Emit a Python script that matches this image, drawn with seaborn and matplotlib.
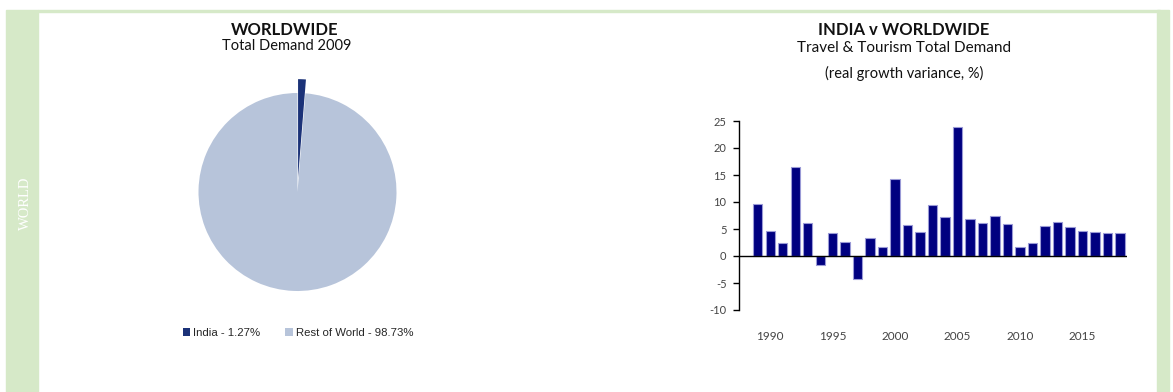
import matplotlib
matplotlib.use("Agg")
import matplotlib.pyplot as plt
from matplotlib.patches import Rectangle, Patch
import seaborn as sns
import pandas as pd

# Share of world Travel & Tourism total demand, 2009
pie_labels = ["India", "Rest of World"]
pie_shares = [1.27, 98.73]
pie_colors = ["#1B3278", "#B7C4DA"]

# India vs worldwide real growth variance (%), 1989-2018
years = list(range(1989, 2019))
growth = [9.6, 4.7, 2.5, 16.4, 6.1, -1.7, 4.3, 2.6, -4.3, 3.4,
          1.6, 14.2, 5.7, 4.4, 9.4, 7.2, 23.9, 6.9, 6.2, 7.5,
          5.9, 1.7, 2.5, 5.6, 6.3, 5.4, 4.6, 4.4, 4.3, 4.2]
year_ticks = [1990, 1995, 2000, 2005, 2010, 2015]
y_ticks = [-10, -5, 0, 5, 10, 15, 20, 25]

sns.set_style("white")
plt.rcParams["font.family"] = ["Lato", "DejaVu Sans"]
plt.rcParams["axes.unicode_minus"] = False

W, H = 1173, 392
fig = plt.figure(figsize=(W / 100, H / 100), dpi=100)
green = "#D6E9C8"

# page frame: left band, top rule, right band
fig.patches.append(Rectangle((6 / W, 0), 32 / W, 1 - 10 / H, transform=fig.transFigure,
                             color=green, zorder=0))
fig.patches.append(Rectangle((38 / W, 1 - 12 / H), 1122 / W, 2 / H, transform=fig.transFigure,
                             color=green, zorder=0))
fig.patches.append(Rectangle((1157 / W, 0), 12 / W, 1 - 10 / H, transform=fig.transFigure,
                             color=green, zorder=0))
fig.text(25 / W, 1 - 203 / H, "WORLD", rotation=90, color="white", ha="center", va="center",
         fontsize=10.5, family=["Liberation Serif", "DejaVu Serif"])

# ---- pie ----
cx, cy, half = 297.5, 192, 130
pax = fig.add_axes([(cx - half) / W, 1 - (cy + half) / H, 2 * half / W, 2 * half / H])
pax.pie(pie_shares, colors=pie_colors, startangle=90, counterclock=False,
        explode=[0.14, 0], wedgeprops=dict(linewidth=0))
lim = half / 99
pax.set_xlim(-lim, lim)
pax.set_ylim(-lim, lim)
pax.set_aspect("equal")
pax.axis("off")

fig.text(285 / W, 1 - 30 / H, "WORLDWIDE", ha="center", va="center",
         fontsize=12, fontweight="bold", color="#111111")
fig.text(287 / W, 1 - 46 / H, "Total Demand 2009", ha="center", va="center",
         fontsize=10.5, color="#111111")

handles = [Patch(facecolor=c, edgecolor="none") for c in pie_colors]
leg_labels = [f"{n} - {v:.2f}%" for n, v in zip(pie_labels, pie_shares)]
fig.legend(handles, leg_labels, loc="center", bbox_to_anchor=(298 / W, 1 - 333 / H),
           ncol=2, frameon=False, handlelength=0.65, handleheight=0.65,
           handletextpad=0.25, columnspacing=2.2,
           prop=dict(family=["Liberation Sans", "DejaVu Sans"], size=8.2))

# ---- bars ----
ax = fig.add_axes([739 / W, 1 - 310 / H, (1127 - 739) / W, (310 - 121) / H])
df = pd.DataFrame({"year": [str(y) for y in years], "growth": growth})
sns.barplot(data=df, x="year", y="growth", color="#000080", saturation=1,
            width=0.75, edgecolor="#9A9AD6", linewidth=0.8, ax=ax, zorder=2)
ax.set_xlim(-1.5, 29.56)
ax.set_ylim(-10, 25)
ax.set_yticks(y_ticks)
ax.set_xticks([years.index(y) for y in year_ticks])
ax.set_xticklabels([str(y) for y in year_ticks])
ax.axhline(0, color="black", lw=1, zorder=3)
for s in ["top", "right", "bottom"]:
    ax.spines[s].set_visible(False)
ax.spines["left"].set_color("black")
ax.spines["left"].set_linewidth(1)
ax.tick_params(axis="y", direction="out", length=4, width=1, color="black",
               labelsize=8, labelcolor="#444444", pad=5, left=True)
ax.tick_params(axis="x", length=0, labelsize=8.5, labelcolor="#444444", pad=15)
ax.set_xlabel("")
ax.set_ylabel("")
ax.grid(False)
ax.set_facecolor("none")

fig.text(904 / W, 1 - 30 / H, "INDIA v WORLDWIDE", ha="center", va="center",
         fontsize=12, fontweight="bold", color="#111111")
fig.text(904 / W, 1 - 48 / H, "Travel & Tourism Total Demand", ha="center", va="center",
         fontsize=11, color="#111111")
fig.text(904 / W, 1 - 73 / H, "(real growth variance, %)", ha="center", va="center",
         fontsize=10.5, color="#111111")

fig.savefig("out.png", dpi=100, facecolor="white")
